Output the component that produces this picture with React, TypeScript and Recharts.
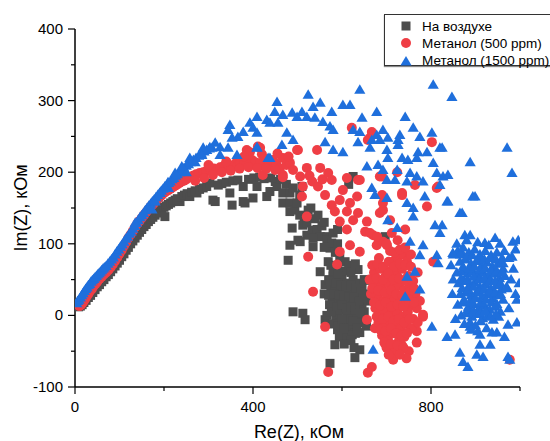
import React from "react";
import { ScatterChart, Scatter, XAxis, YAxis } from "recharts";

// Nyquist plot: three measurement conditions
const SERIES_NAMES = ["На воздухе", "Метанол (500 ppm)", "Метанол (1500 ppm)"];
const COLORS = ["#4d4d4d", "#ef3e45", "#1f6fdc"];

const X_TICKS = [0, 200, 400, 600, 800, 1000];
const X_LABELS = [0, 400, 800];
const Y_TICKS = [-100, -50, 0, 50, 100, 150, 200, 250, 300, 350, 400];
const Y_LABELS = [-100, 0, 100, 200, 300, 400];

const airPoints: [number, number][] = [
  [8,12],[12,13],[16,15],[20,18],[25,21],[30,25],[35,28],[40,32],[45,36],[50,40],[55,43],[60,47],[65,50],[70,54],
  [75,57],[80,61],[85,65],[90,69],[95,73],[100,77],[105,82],[110,86],[115,91],[120,95],[125,100],[130,104],[135,108],
  [140,112],[145,116],[150,120],[155,124],[160,127],[165,131],[170,134],[175,137],[180,140],[185,143],[190,146],
  [195,148],[200,151],[202,138],[205,153],[210,155],[215,157],[220,159],[225,161],[230,163],[236,159],[240,166],
  [246,168],[252,170],[258,166],[262,172],[270,174],[274,171],[280,176],[288,178],[296,180],[303,185],[310,161],
  [315,159],[322,182],[330,184],[340,186],[348,171],[353,154],[355,188],[366,189],[378,159],[378,180],[382,157],
  [390,190],[400,164],[402,192],[409,180],[415,193],[425,191],[431,166],[438,173],[440,192],[450,187],[454,180],
  [462,190],[467,171],[467,157],[475,183],[483,171],[483,157],[483,145],[490,178],[494,147],[499,157],[505,168],
  [510,180],[505,140],[515,138],[512,126],[521,129],[521,112],[524,147],[530,150],[533,119],[540,135],[544,120],
  [546,140],[551,110],[555,125],[560,130],[566,110],[566,105],[573,94],[577,101],[580,115],[590,120],[535,108],
  [560,95],[585,88],[595,80],[590,100],[615,183],[625,194],[488,122],[483,98],[479,77],[501,105],[506,103],[535,96],
  [551,61],[569,75],[607,75],[562,43],[663,49],[697,110],[490,5],[512,3],[517,-6],[562,-6],[584,-41],[640,-48],
  [629,-59],[573,-67],[627,-45],
  [570,50],[580,55],[590,48],[600,52],[612,45],[625,50],[636,64],[645,40],[650,30],[656,20],[575,40],[585,35],
  [595,38],[605,30],[615,32],[625,35],[635,28],[645,15],[578,25],[588,20],[598,22],[608,18],[618,20],[628,15],
  [638,10],[582,10],[592,5],[602,8],[612,3],[622,6],[632,0],[642,-5],[586,-5],[596,-10],[606,-8],[616,-12],
  [626,-15],[636,-10],[590,-20],[600,-24],[610,-22],[620,-18],[630,-25],[572,15],[566,0],[650,5],[655,-15],
  [560,30],[640,45],[604,62],[590,68],[615,70],[580,62],[594,-30],[612,-32],[623,-27],[640,-24],
  [574,48],[586,45],[598,42],[608,40],[620,42],[632,38],[642,32],[570,28],[582,30],[594,28],[604,25],[616,26],
  [626,25],[638,20],[648,25],[576,5],[588,12],[600,15],[610,10],[620,12],[630,8],[640,3],[580,-12],[592,-15],
  [604,-18],[614,-5],[624,-8],[634,-18],[600,-5],[620,-35],[605,-40],[590,58],[620,60],[650,50],[575,70],[630,72],
];

const methanol500: [number, number][] = [
  [10,13],[14,15],[18,18],[22,22],[26,26],[30,30],[34,34],[38,37],[42,41],[46,44],[50,47],[55,51],[60,54],[65,57],
  [70,60],[75,63],[80,67],[85,71],[90,76],[95,81],[100,86],[105,91],[110,97],[115,102],[120,108],[125,113],
  [130,118],[135,123],[140,128],[145,132],[150,136],[155,140],[160,144],[165,148],[170,152],[175,155],[180,159],
  [185,162],[190,165],[195,168],[200,171],[205,173],[210,175],[215,177],[220,179],[225,181],[230,183],[235,185],
  [240,187],[245,188],[250,190],[258,193],[265,195],[272,197],[280,199],[288,200],[296,202],[305,203],[312,205],
  [319,203],[326,207],[335,209],[344,210],[352,208],[360,212],[364,208],[372,213],[380,215],[386,231],[393,228],
  [398,217],[405,214],[411,236],[416,213],[416,234],[422,196],[430,218],[437,210],[445,217],[452,212],[460,205],
  [467,220],[467,196],[467,193],[475,210],[483,213],[490,203],[499,231],[501,231],[506,194],[512,180],[510,166],
  [270,188],[290,192],[310,196],[330,200],[350,202],[370,205],[390,207],[410,206],[430,205],[450,203],[300,210],
  [340,215],[380,222],[420,225],[455,226],[480,222],
  [521,206],[521,138],[527,195],[533,187],[544,231],[546,180],[551,206],[556,190],[562,168],[569,199],[577,189],
  [577,154],[584,145],[595,161],[595,131],[602,175],[611,192],[611,145],[611,120],[618,157],[618,98],[622,262],
  [625,133],[634,166],[636,189],[636,143],[640,189],[640,89],[652,117],[656,131],[658,245],[663,248],[667,256],
  [670,112],[678,98],[685,194],[685,143],[690,168],[690,194],[692,147],[692,157],[692,103],[708,133],[724,200],
  [726,87],[735,171],[735,168],[742,120],[746,84],[764,182],[791,152],[802,242],[805,75],[813,178],[816,180],
  [595,89],[589,71],[524,82],[535,33],[562,-16],[569,-79],[656,-6],[667,-72],[658,-80],[768,-38],[782,-2],
  [712,-53],[674,-18],[782,1],[768,-22],[977,-62],[701,98],[663,115],[679,110],[731,84],[746,75],[715,71],[701,61],
  [672,60],[685,65],[698,55],[710,62],[722,58],[735,65],[748,55],[760,48],[676,45],[690,40],[704,45],[716,38],
  [728,42],[740,35],[752,40],[765,30],[680,25],[694,20],[706,28],[718,22],[730,18],[742,25],[755,15],[768,10],
  [675,10],[688,5],[700,8],[712,2],[724,5],[736,-2],[748,5],[760,-5],[682,-10],[695,-15],[708,-8],[720,-14],
  [732,-20],[744,-12],[756,-18],[690,-28],[703,-32],[716,-25],[728,-35],[740,-30],[700,-45],[720,-48],[735,-42],
  [750,-50],[665,30],[662,50],[770,60],[775,20],[745,-60],[715,-62],[770,-10],[683,80],[720,78],[755,85],[708,90],
  [668,70],[680,72],[693,68],[705,75],[717,68],[730,72],[742,70],[755,68],[678,52],[692,50],[704,58],[716,50],
  [728,52],[742,48],[756,50],[668,38],[682,35],[696,32],[710,35],[722,30],[736,28],[750,32],[762,38],[672,18],
  [686,14],[698,18],[711,12],[725,15],[738,12],[750,22],[762,18],[678,-2],[692,-5],[704,-2],[716,-8],[728,-5],
  [740,-10],[752,-5],[686,-20],[698,-22],[710,-18],[722,-25],[734,-28],[746,-25],[695,-38],[710,-40],[725,-42],
  [738,-45],[705,-55],[730,-55],[718,88],[730,92],[742,95],[700,100],[725,105],[712,115],
];

const methanol1500: [number, number][] = [
  [4,17],[6,20],[9,22],[12,25],[15,28],[18,31],[21,34],[24,37],[27,39],[30,42],[33,44],[36,47],[39,49],[42,51],
  [45,53],[48,55],[51,57],[54,59],[57,61],[60,63],[63,65],[66,67],[70,69],[74,72],[78,75],[82,78],[86,81],[90,85],
  [94,89],[98,92],[102,96],[106,99],[110,103],[114,107],[118,110],[122,114],[126,117],[130,121],[134,125],
  [138,129],[142,133],[146,137],[150,140],[154,143],[158,147],[162,150],[166,153],[170,156],[174,159],[178,162],
  [182,165],[186,168],[190,171],[194,174],[198,177],[202,179],[206,182],[210,185],[214,187],[218,190],[222,192],
  [226,195],[230,197],[235,200],[240,203],[245,206],[250,209],[255,211],[260,214],[266,217],[272,220],[278,223],
  [284,226],[290,229],[296,231],[302,233],[170,150],[210,178],[250,200],
  [454,298],[449,284],[467,280],[488,283],[499,277],[409,277],[431,273],[438,269],[456,269],[393,269],[400,262],
  [409,255],[348,266],[344,259],[378,256],[366,249],[353,248],[476,255],[490,245],[465,238],[438,220],[409,234],
  [364,224],[344,234],[326,235],[315,241],[308,234],[303,235],[288,234],[285,224],[258,220],[270,214],[240,208],
  [225,199],[209,186],[202,180],[191,171],[180,159],[173,148],[326,224],[135,129],[409,235],[434,220],
  [524,308],[640,315],[805,322],[551,297],[535,291],[602,294],[618,294],[577,284],[678,284],[742,277],[510,284],
  [521,277],[539,276],[557,270],[645,276],[573,264],[580,259],[625,259],[640,256],[692,259],[760,262],[802,255],
  [678,252],[730,252],[775,249],[562,242],[636,242],[667,245],[685,245],[703,248],[726,245],[580,231],[602,228],
  [663,234],[701,231],[726,238],[771,228],[791,228],[820,234],[703,220],[735,220],[748,217],[768,220],[805,213],
  [656,208],[681,210],[692,203],[724,203],[753,199],[768,194],[813,199],[827,194],[701,189],[719,189],[746,187],
  [782,187],[820,182],[667,178],[674,168],[701,164],[786,166],[746,157],[760,150],[836,159],[760,138],
  [847,305],[825,234],[971,234],[888,214],[982,199],[838,196],[899,166],[838,159],[870,143],[809,126],[825,126],
  [820,115],[876,112],[888,112],[921,101],[944,108],[984,103],[996,105],[753,103],[782,98],[775,84],[813,84],
  [816,73],[982,82],[849,87],[870,87],[962,73],[764,61],[746,54],[775,36],[742,26],[971,38],[993,22],[973,-13],
  [993,-10],[802,-16],[836,-30],[854,-27],[888,-16],[910,-27],[937,-24],[948,-24],[933,-41],[910,-41],[865,-52],
  [872,-65],[883,-72],[903,-55],[917,-58],[973,-58],[977,-62],[670,-48],[703,133],[724,122],[894,166],[865,143],
  [860,90],[872,95],[885,88],[898,92],[910,85],[922,90],[935,84],[948,88],[960,80],[865,75],[878,78],[890,72],
  [902,76],[914,70],[926,74],[938,68],[950,72],[962,65],[858,60],[870,62],[882,58],[894,62],[906,56],[918,60],
  [930,54],[942,58],[954,52],[966,55],[862,45],[874,48],[886,42],[898,46],[910,40],[922,44],[934,38],[946,42],
  [958,36],[970,40],[866,30],[878,32],[890,28],[902,32],[914,26],[926,30],[938,24],[950,28],[962,22],[860,15],
  [872,18],[884,12],[896,16],[908,10],[920,14],[932,8],[944,12],[956,5],[868,0],[880,3],[892,-2],[904,2],[916,-4],
  [928,0],[940,-6],[952,-2],[875,-12],[888,-10],[900,-14],[912,-8],[925,-18],[850,50],[848,30],[845,70],[980,50],
  [990,30],[985,65],[975,10],[998,45],[855,-5],[965,-30],[880,105],[905,102],[930,98],[955,100],
  [866,85],[880,82],[893,84],[907,80],[920,78],[933,80],[946,78],[958,74],[872,68],[886,66],[898,68],[910,64],
  [922,66],[935,62],[948,62],[960,60],[868,52],[882,50],[896,54],[908,50],[920,52],[932,48],[944,48],[956,45],
  [870,38],[884,36],[896,40],[908,34],[920,36],[932,34],[944,32],[956,30],[874,22],[888,20],[900,24],[912,18],
  [924,22],[936,18],[948,16],[882,8],[896,6],[910,4],[922,6],[934,-2],[946,2],[890,-20],[905,-22],[850,85],
  [858,100],[965,90],[975,80],[990,92],
];

const toXY = (pts: [number, number][]) => pts.map(([x, y]) => ({ x, y }));

const FONT = "Arial, 'Liberation Sans', sans-serif";

const Square = ({ cx, cy }: any) => <rect x={cx - 4.5} y={cy - 4.5} width={9} height={9} fill={COLORS[0]} />;
const Dot = ({ cx, cy }: any) => <circle cx={cx} cy={cy} r={5} fill={COLORS[1]} />;
const Tri = ({ cx, cy }: any) => (
  <polygon points={`${cx},${cy - 5.5} ${cx + 5.6},${cy + 4} ${cx - 5.6},${cy + 4}`} fill={COLORS[2]} />
);

const XTick = ({ x, y, payload }: any) => {
  const major = X_LABELS.includes(payload.value);
  return (
    <g>
      <line x1={x} x2={x} y1={y} y2={y + (major ? 7 : 4)} stroke="#000" strokeWidth={1.2} />
      {major && (
        <text x={x} y={y + 25} textAnchor="middle" fontSize={15} fontFamily={FONT} fill="#000">
          {payload.value}
        </text>
      )}
    </g>
  );
};

const YTick = ({ x, y, payload }: any) => {
  const major = Y_LABELS.includes(payload.value);
  return (
    <g>
      <line x1={x} x2={x - (major ? 7 : 4)} y1={y} y2={y} stroke="#000" strokeWidth={1.2} />
      {major && (
        <text x={x - 12} y={y + 5} textAnchor="end" fontSize={15} fontFamily={FONT} fill="#000">
          {payload.value}
        </text>
      )}
    </g>
  );
};

const LegendMark = ({ i }: { i: number }) => (
  <svg width={12} height={12} style={{ display: "block" }}>
    {i === 0 && <rect x={1.5} y={1.5} width={9} height={9} fill={COLORS[0]} />}
    {i === 1 && <circle cx={6} cy={6} r={5} fill={COLORS[1]} />}
    {i === 2 && <polygon points="6,1 11.6,10.5 0.4,10.5" fill={COLORS[2]} />}
  </svg>
);

export default function App() {
  return (
    <div style={{ position: "absolute", left: 0, top: 0, width: 550, height: 441, background: "#fff", fontFamily: FONT }}>
      <ScatterChart width={550} height={441} margin={{ top: 29, right: 30, bottom: 24, left: 0 }}>
        <XAxis
          type="number"
          dataKey="x"
          domain={[0, 1000]}
          ticks={X_TICKS}
          allowDataOverflow
          height={30}
          axisLine={{ stroke: "#000", strokeWidth: 1.5 }}
          tickLine={false}
          tickSize={0}
          tickMargin={0}
          tick={<XTick />}
          interval={0}
        />
        <YAxis
          type="number"
          dataKey="y"
          domain={[-100, 400]}
          ticks={Y_TICKS}
          allowDataOverflow
          width={75}
          axisLine={{ stroke: "#000", strokeWidth: 1.5 }}
          tickLine={false}
          tickSize={0}
          tickMargin={0}
          tick={<YTick />}
          interval={0}
        />
        <Scatter name={SERIES_NAMES[0]} data={toXY(airPoints)} shape={Square} isAnimationActive={false} />
        <Scatter name={SERIES_NAMES[1]} data={toXY(methanol500)} shape={Dot} isAnimationActive={false} />
        <Scatter name={SERIES_NAMES[2]} data={toXY(methanol1500)} shape={Tri} isAnimationActive={false} />
      </ScatterChart>

      <div style={{ position: "absolute", left: 277, top: 422, width: 44, textAlign: "center", fontSize: 18, whiteSpace: "nowrap", display: "flex", justifyContent: "center" }}>
        Re(Z), кОм
      </div>
      <div style={{ position: "absolute", left: 21, top: 208, transform: "translate(-50%, -50%) rotate(-90deg)", fontSize: 18, whiteSpace: "nowrap" }}>
        Im(Z), кОм
      </div>

      <div style={{ position: "absolute", left: 384, top: 14, width: 170, height: 52, border: "1px solid #333", boxShadow: "0 1px 1px #888", background: "#fff", boxSizing: "border-box" }}>
        {SERIES_NAMES.map((n, i) => (
          <div key={n} style={{ position: "absolute", left: 15, top: 3 + i * 17.3, height: 16, display: "flex", alignItems: "center", fontSize: 13.5, color: "#000", whiteSpace: "nowrap" }}>
            <LegendMark i={i} />
            <span style={{ marginLeft: 10 }}>{n}</span>
          </div>
        ))}
      </div>
    </div>
  );
}
